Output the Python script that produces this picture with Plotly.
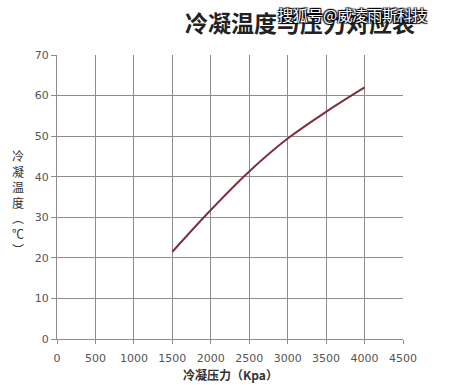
import plotly.graph_objects as go

pressure_kpa = [1500, 2000, 2500, 3000, 3500, 4000]
cond_temp_c = [21.5, 31.8, 41.3, 49.4, 56.0, 62.0]

x_ticks = [0, 500, 1000, 1500, 2000, 2500, 3000, 3500, 4000, 4500]
y_ticks = [0, 10, 20, 30, 40, 50, 60, 70]

title_text = "冷凝温度与压力对应表"
watermark_text = "搜狐号@威凌雨斯科技"
x_title = "冷凝压力（Kpa）"
y_title_chars = ["冷", "凝", "温", "度", "︵", "℃", "︶"]

fig = go.Figure()
fig.add_trace(go.Scatter(
    x=pressure_kpa, y=cond_temp_c, mode="lines",
    line=dict(color="#7d2f3c", width=2, shape="spline", smoothing=1.0),
    hoverinfo="skip", showlegend=False,
))

axis_font = dict(family="DejaVu Sans, Verdana, sans-serif", size=11, color="#555555")

fig.update_layout(
    width=456, height=390,
    margin=dict(l=57, r=53, t=55, b=51),
    paper_bgcolor="#ffffff", plot_bgcolor="#ffffff",
    xaxis=dict(
        range=[0, 4500], tickvals=x_ticks, ticktext=[str(v) for v in x_ticks],
        showgrid=True, gridcolor="#8c8c8c", gridwidth=1,
        showline=True, linecolor="#8c8c8c", linewidth=1,
        ticks="outside", ticklen=4, tickcolor="#8c8c8c", ticklabelstandoff=5,
        tickfont=axis_font, zeroline=False, fixedrange=True,
    ),
    yaxis=dict(
        range=[0, 70], tickvals=y_ticks, ticktext=[str(v) for v in y_ticks],
        showgrid=True, gridcolor="#8c8c8c", gridwidth=1,
        showline=True, linecolor="#8c8c8c", linewidth=1,
        ticks="outside", ticklen=5, tickcolor="#8c8c8c",
        tickfont=axis_font, zeroline=False, fixedrange=True,
    ),
    annotations=[
        dict(text="<b>" + title_text + "</b>", x=300, y=22, showarrow=False,
             font=dict(family="Noto Sans CJK SC", size=23, color="#222222"),
             xanchor="center", yanchor="middle"),
        dict(text="<br>".join(y_title_chars), x=18, y=202, showarrow=False,
             font=dict(family="Noto Sans CJK SC", size=12, color="#333333"),
             xanchor="center", yanchor="middle"),
        dict(text="<b>" + x_title + "</b>", x=230, y=374, showarrow=False,
             font=dict(family="Noto Sans CJK SC", size=12, color="#333333"),
             xanchor="center", yanchor="middle"),
        dict(text=watermark_text, x=352, y=14, showarrow=False,
             font=dict(family="Noto Sans CJK SC", size=15, color="#ffffff",
                       shadow="1px 1px 1px #000, -1px -1px 1px #000, 1px -1px 1px #000, -1px 1px 1px #000"),
             xanchor="center", yanchor="middle"),
    ],
)

# convert pixel-positioned annotations to paper coordinates
W, H = 456, 390
l, r, t, b = 57, 53, 55, 51
pw, ph = W - l - r, H - t - b
new_ann = []
for a in fig.layout.annotations:
    px, py = a.x, a.y
    a.x = (px - l) / pw
    a.y = (H - b - py) / ph
    a.xref = "paper"
    a.yref = "paper"
    new_ann.append(a)
fig.layout.annotations = new_ann

fig.write_html("out.html")
